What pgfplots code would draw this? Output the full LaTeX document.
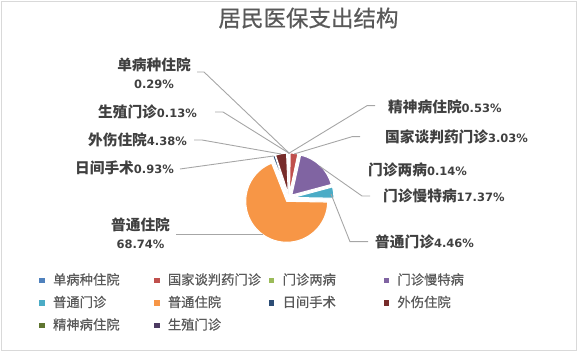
\documentclass[border=0pt]{standalone}
\usepackage{pgfplots}
\pgfplotsset{compat=1.18}
\usepackage{pgfplotstable}
\usepackage{fontspec}
\setmainfont{Noto Sans CJK SC}
\newfontfamily\cjk{Noto Sans CJK SC}
\newfontfamily\cjkm{Noto Sans CJK SC}[FakeBold=0.6]
\newfontfamily\numf{DejaVu Sans}
\definecolor{c0}{HTML}{4F81BD}
\definecolor{c1}{HTML}{C0504D}
\definecolor{c2}{HTML}{9BBB59}
\definecolor{c3}{HTML}{8064A2}
\definecolor{c4}{HTML}{4BACC6}
\definecolor{c5}{HTML}{F79646}
\definecolor{c6}{HTML}{2C4D75}
\definecolor{c7}{HTML}{772C2A}
\definecolor{c8}{HTML}{5F7530}
\definecolor{c9}{HTML}{4D3B62}
\definecolor{labgray}{HTML}{404040}
\definecolor{leggray}{HTML}{595959}
\definecolor{linegray}{HTML}{A6A6A6}
\definecolor{framegray}{HTML}{D9D9D9}
\newcommand\cn[1]{{\cjk\bfseries\fontsize{14.7}{18.5}\selectfont #1}}
\newcommand\pc[1]{{\numf\bfseries\fontsize{11.5}{18.5}\selectfont #1}}

\pgfplotstableread[col sep=comma]{
name,value
单病种住院,0.29
国家谈判药门诊,3.03
门诊两病,0.14
门诊慢特病,17.37
普通门诊,4.46
普通住院,68.74
日间手术,0.93
外伤住院,4.38
精神病住院,0.53
生殖门诊,0.13
}\piedata

\begin{document}
\begin{tikzpicture}
\begin{axis}[x=1pt,y=1pt,xmin=0,xmax=578,ymin=0,ymax=352,y dir=reverse,
  hide axis,clip=false,
  legend style={at={(axis cs:39.3,269.8)},anchor=north west,draw=none,fill=none,
    inner sep=0pt,outer sep=0pt,legend columns=4,
    font=\cjkm\fontsize{13.3}{16}\selectfont,text=leggray,
    nodes={text width=101pt,align=left,inner xsep=0pt,inner ysep=4.75pt,text height=10pt,text depth=3pt},
    /tikz/every odd column/.append style={column sep=8.4pt},
    /tikz/every even column/.append style={column sep=0pt},
    row sep=0pt},
  legend cell align=left,
  legend image code/.code={\fill[#1] (0pt,-2.2pt) rectangle (5.4pt,3.2pt);}
]
\path (axis cs:0,0) rectangle (axis cs:578,352);
\draw[framegray,line width=1pt] (axis cs:1.3,1.3) rectangle (axis cs:576.7,350.2);

% pie slices from the table
\pgfplotstablegetrowsof{\piedata}
\pgfmathtruncatemacro{\lastrow}{\pgfplotsretval-1}
\gdef\cum{0}
\pgfplotsforeachungrouped \i in {0,...,\lastrow}{%
  \pgfplotstablegetelem{\i}{value}\of\piedata
  \let\val\pgfplotsretval
  \pgfmathsetmacro{\va}{90-3.6*\cum}%
  \pgfmathsetmacro{\vb}{90-3.6*(\cum+\val)}%
  \pgfmathsetmacro{\vm}{(\va+\vb)/2}%
  \pgfmathsetmacro{\cx}{289+4*cos(\vm)}%
  \pgfmathsetmacro{\cy}{198-4*sin(\vm)}%
  \pgfmathsetmacro{\newcum}{\cum+\val}%
  \xdef\cum{\newcum}%
  \edef\slice{\noexpand\fill[fill=c\i,draw=white,line width=1.1pt,line join=round]
    (axis cs:\cx,\cy) -- ++(\va:41pt) arc[start angle=\va,end angle=\vb,radius=41pt] -- cycle;}%
  \slice
}

% title
\node[font=\cjkm\fontsize{22.5}{26}\selectfont,text=leggray] at (axis cs:308.5,18) {居民医保支出结构};

% leader lines
\begin{scope}[linegray,line width=0.9pt]
\draw (axis cs:197,72) -- (axis cs:204,72) -- (axis cs:289,153);
\draw (axis cs:215,112) -- (axis cs:223,112) -- (axis cs:289.5,153.5);
\draw (axis cs:194,140) -- (axis cs:202,140) -- (axis cs:281,154);
\draw (axis cs:180,169) -- (axis cs:273.5,156);
\draw (axis cs:176,234.3) -- (axis cs:263,234.3);
\draw (axis cs:375,105.7) -- (axis cs:367,105.7) -- (axis cs:288.5,153.5);
\draw (axis cs:360,136.7) -- (axis cs:352,136.7) -- (axis cs:294,154);
\draw (axis cs:370,196) -- (axis cs:362,196) -- (axis cs:320,166.5);
\draw (axis cs:368,241.7) -- (axis cs:350,241.7) -- (axis cs:331,194);
\end{scope}

% data labels
\begin{scope}[inner sep=0pt,text=labgray]
\node[align=center,font=\fontsize{14.7}{18.5}\selectfont] at (axis cs:154,73) {\cn{单病种住院}\\\pc{0.29\%}};
\node[anchor=east] at (axis cs:197,112) {\cn{生殖门诊}\pc{0.13\%}};
\node[anchor=east] at (axis cs:187,140) {\cn{外伤住院}\pc{4.38\%}};
\node[anchor=east] at (axis cs:174,168) {\cn{日间手术}\pc{0.93\%}};
\node[align=center,font=\fontsize{14.7}{18.5}\selectfont] at (axis cs:140.5,233) {\cn{普通住院}\\\pc{68.74\%}};
\node[anchor=west] at (axis cs:388,107) {\cn{精神病住院}\pc{0.53\%}};
\node[anchor=west] at (axis cs:385,137) {\cn{国家谈判药门诊}\pc{3.03\%}};
\node[anchor=west] at (axis cs:368,170) {\cn{门诊两病}\pc{0.14\%}};
\node[anchor=west] at (axis cs:383,196) {\cn{门诊慢特病}\pc{17.37\%}};
\node[anchor=west] at (axis cs:375,242) {\cn{普通门诊}\pc{4.46\%}};
\end{scope}

\addlegendimage{fill=c0,draw=none}\addlegendentry{单病种住院}
\addlegendimage{fill=c1,draw=none}\addlegendentry{国家谈判药门诊}
\addlegendimage{fill=c2,draw=none}\addlegendentry{门诊两病}
\addlegendimage{fill=c3,draw=none}\addlegendentry{门诊慢特病}
\addlegendimage{fill=c4,draw=none}\addlegendentry{普通门诊}
\addlegendimage{fill=c5,draw=none}\addlegendentry{普通住院}
\addlegendimage{fill=c6,draw=none}\addlegendentry{日间手术}
\addlegendimage{fill=c7,draw=none}\addlegendentry{外伤住院}
\addlegendimage{fill=c8,draw=none}\addlegendentry{精神病住院}
\addlegendimage{fill=c9,draw=none}\addlegendentry{生殖门诊}
\end{axis}
\end{tikzpicture}
\end{document}
